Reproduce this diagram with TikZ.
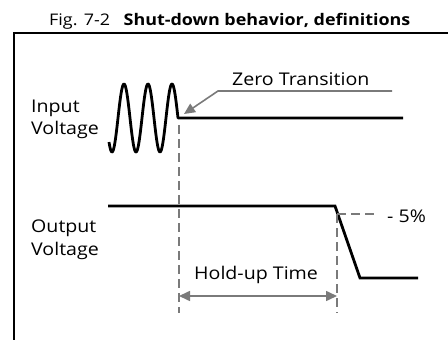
\documentclass[tikz,border=0pt]{standalone}
\usepackage{fontspec}
\setmainfont{Open Sans}[FakeStretch=1.12]
\usetikzlibrary{arrows.meta}
\definecolor{guide}{HTML}{7A7A7A}
\tikzset{
  lbl/.style={anchor=base west, inner sep=0pt, font=\fontsize{17.5}{20}\selectfont},
  signal/.style={line width=2.8pt, line join=miter},
  guideline/.style={draw=guide, line width=1.6pt, dash pattern=on 9pt off 5pt},
  pointer/.style={draw=guide, line width=1.6pt, -{Triangle[length=11pt,width=10pt]}},
  dimarrow/.style={draw=guide, line width=1.6pt, {Triangle[length=11pt,width=10pt]}-{Triangle[length=11pt,width=10pt]}},
}
\begin{document}
\begin{tikzpicture}[x=1pt,y=-1pt]
\useasboundingbox (0,0) rectangle (448,340);
% title
\node[anchor=base west, inner sep=0pt, font=\fontsize{16}{19}\selectfont] (title) at (49,25) {Fig. 7-2\hspace{0.85em}\textbf{Shut-down behavior, definitions}};
% frame
\draw[line width=1.3pt] (448,33) -- (14,33) -- (14,340);
% labels
\node[lbl] (inA) at (31,112) {Input};
\node[lbl] (inB) at (31,134) {Voltage};
\node[lbl] (outA) at (31,232) {Output};
\node[lbl] (outB) at (31,255) {Voltage};
% input signal
\coordinate (zero) at (178,118);
\coordinate (inEnd) at (403,118);
\draw[signal, line join=round] plot[domain=109:178, samples=120, smooth] (\x, {118 - 34*cos(15*(\x-124))}) -- (inEnd);
% output signal
\coordinate (outStart) at (108,206);
\coordinate (drop) at (335,206);
\coordinate (low) at (360,278);
\coordinate (outEnd) at (418,278);
\draw[signal] (outStart) -- (drop) -- (low) -- (outEnd);
% zero transition
\node[lbl] (zt) at (232,85) {Zero Transition};
\coordinate (ztR) at (392,91);
\coordinate (ztK) at (218,91);
\coordinate (ztTip) at (184,114);
\draw[pointer] (ztR) -- (ztK) -- (ztTip);
% -5%
\coordinate (fiveA) at (337,214);
\coordinate (fiveB) at (378,214);
\draw[guideline] (fiveA) -- (fiveB);
\node[lbl] (five) at (387,222) {- 5\%};
% vertical guides
\coordinate (vLtop) at (179,125);
\coordinate (vLbot) at (179,313);
\coordinate (vRtop) at (337,214);
\coordinate (vRbot) at (337,313);
\draw[guideline] (vLtop) -- (vLbot);
\draw[guideline] (vRtop) -- (vRbot);
% hold-up
\node[lbl] (hu) at (194,279) {Hold-up Time};
\coordinate (hL) at (179,296);
\coordinate (hR) at (337,296);
\draw[dimarrow] (hL) -- (hR);
\end{tikzpicture}
\end{document}
